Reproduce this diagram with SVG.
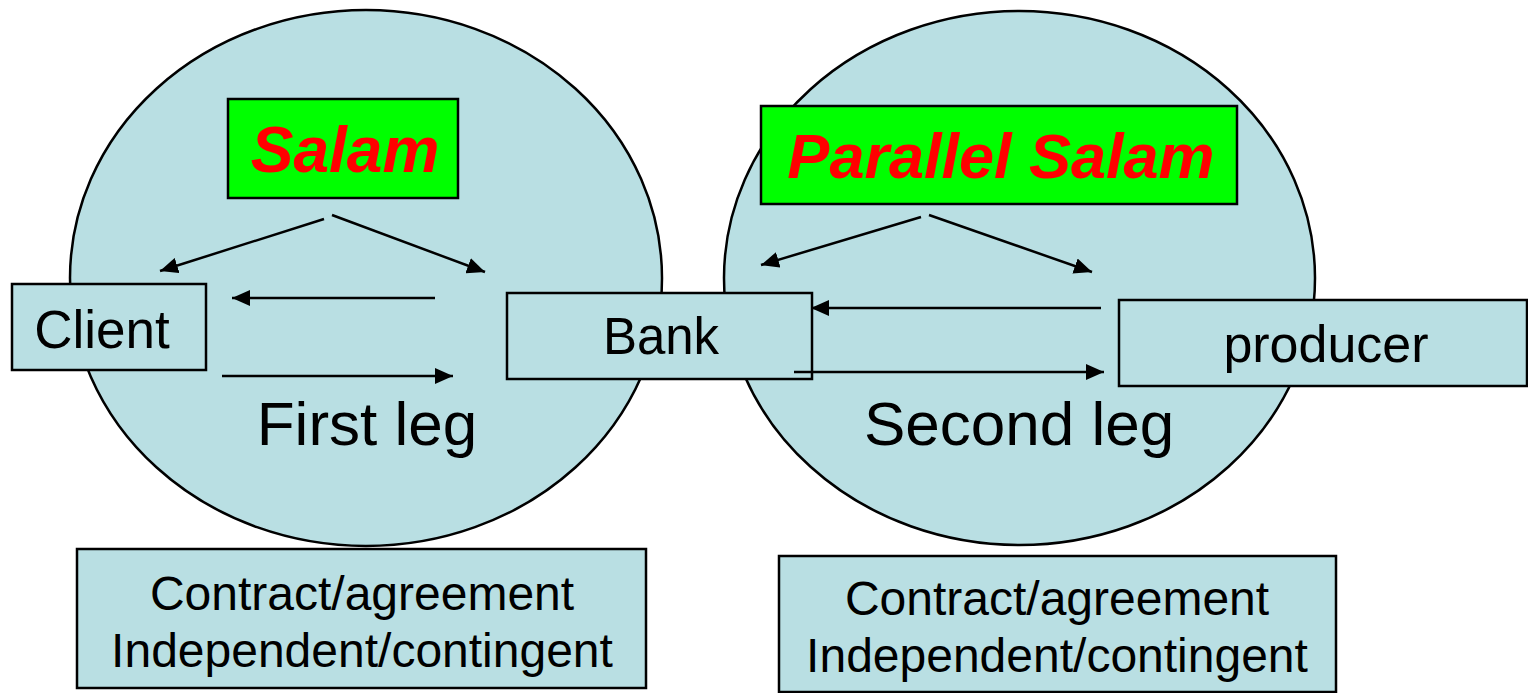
<svg xmlns="http://www.w3.org/2000/svg" width="1528" height="693" viewBox="0 0 1528 693">
<style>
.ell{fill:#b9dfe3;stroke:#000;stroke-width:2.5}
.box{fill:#b9dfe3;stroke:#000;stroke-width:2.5}
.title{fill:#00ff00;stroke:#000;stroke-width:2.5}
.tt{font-family:"Liberation Sans",Arial,sans-serif;font-weight:bold;font-style:italic;fill:#ff0000;text-anchor:middle}
.t{font-family:"Liberation Sans",Arial,sans-serif;fill:#000;text-anchor:middle}
.c{stroke:#000;stroke-width:2.5;fill:none;marker-end:url(#ah)}
</style>
<defs>
<marker id="ah" markerUnits="userSpaceOnUse" markerWidth="20" markerHeight="16" refX="18" refY="8" orient="auto">
<path d="M0,0 L18,8 L0,16 z" fill="#000"/>
</marker>
</defs>
<g id="first-leg">
<ellipse class="ell" cx="366" cy="278" rx="296" ry="268"/>
<text class="t" x="367" y="445" font-size="62">First leg</text>
</g>
<g id="second-leg">
<ellipse class="ell" cx="1019.5" cy="278" rx="295.5" ry="267"/>
<text class="t" x="1019" y="445" font-size="62">Second leg</text>
</g>
<g id="salam">
<rect class="title" x="228" y="99" width="230" height="99"/>
<text class="tt" x="345" y="172" font-size="64">Salam</text>
</g>
<g id="parallel-salam">
<rect class="title" x="761" y="106" width="476" height="98"/>
<text class="tt" x="1001" y="178" font-size="63">Parallel Salam</text>
</g>
<g id="client">
<rect class="box" x="12" y="284" width="194" height="86"/>
<text class="t" x="102" y="348" font-size="53">Client</text>
</g>
<g id="bank">
<rect class="box" x="507" y="293" width="305" height="86"/>
<text class="t" x="661" y="354" font-size="51">Bank</text>
</g>
<g id="producer">
<rect class="box" x="1119" y="300" width="408" height="86"/>
<text class="t" x="1326" y="362" font-size="52">producer</text>
</g>
<g id="note-left">
<rect class="box" x="77" y="549" width="569" height="139"/>
<text class="t" x="362" y="610" font-size="48">Contract/agreement</text>
<text class="t" x="362" y="667" font-size="48">Independent/contingent</text>
</g>
<g id="note-right">
<rect class="box" x="779" y="556" width="557" height="136"/>
<text class="t" x="1057" y="615" font-size="48">Contract/agreement</text>
<text class="t" x="1057" y="672" font-size="48">Independent/contingent</text>
</g>
<g id="connectors">
<line class="c" x1="324" y1="219" x2="160" y2="271"/>
<line class="c" x1="332" y1="215" x2="485" y2="272"/>
<line class="c" x1="435" y1="298" x2="232" y2="298"/>
<line class="c" x1="222" y1="376" x2="453" y2="376"/>
<line class="c" x1="921" y1="217" x2="761" y2="265"/>
<line class="c" x1="929" y1="215" x2="1092" y2="272"/>
<line class="c" x1="1101" y1="308" x2="811" y2="308"/>
<line class="c" x1="794" y1="372" x2="1104" y2="372"/>
</g>
</svg>
